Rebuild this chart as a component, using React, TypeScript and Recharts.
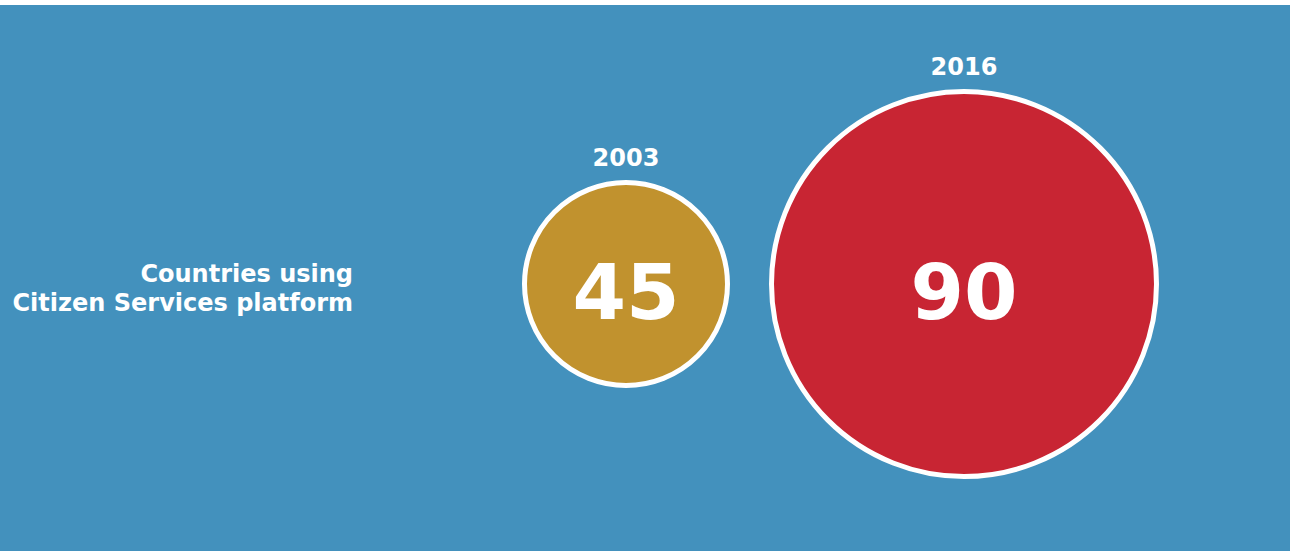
import React from "react";
import { ScatterChart, Scatter, XAxis, YAxis, ZAxis, Cell } from "recharts";

const years = ["2003", "2016"];
const counts = [45, 90];
const metricLabel = ["Countries using", "Citizen Services platform"];
const colors = ["#C1922E", "#C82533"];

const data = years.map((y, i) => ({
  year: y,
  metric: metricLabel.join(" "),
  value: counts[i],
  color: colors[i],
}));

const FONT = "'DejaVu Sans', Verdana, sans-serif";
const STROKE = 5;

const Bubble = (props: any) => {
  const { cx, cy, width, payload } = props;
  const r = width / 2;
  return (
    <g>
      <circle cx={cx} cy={cy} r={r} fill={payload.color} stroke="#ffffff" strokeWidth={STROKE} />
      <text
        x={cx}
        y={cy - r - STROKE / 2 - 14}
        textAnchor="middle"
        fill="#ffffff"
        fontFamily={FONT}
        fontWeight="bold"
        fontSize={24}
      >
        {payload.year}
      </text>
      <text
        x={cx}
        y={cy + 35}
        textAnchor="middle"
        fill="#ffffff"
        fontFamily={FONT}
        fontWeight="bold"
        fontSize={77}
      >
        {payload.value}
      </text>
    </g>
  );
};

const MetricTick = (props: any) => {
  const { x, y } = props;
  return (
    <g>
      {metricLabel.map((line, i) => (
        <text
          key={i}
          x={x - 96}
          y={y - 2 + i * 29}
          textAnchor="end"
          fill="#ffffff"
          fontFamily={FONT}
          fontWeight="bold"
          fontSize={24}
        >
          {line}
        </text>
      ))}
    </g>
  );
};

export default function App() {
  return (
    <div style={{ position: "absolute", left: 0, top: 5, width: 1290, height: 546, background: "#4391BD" }}>
      <ScatterChart width={1290} height={546} margin={{ top: 12, right: 157, bottom: 0, left: 0 }}>
        <XAxis dataKey="year" type="category" allowDuplicatedCategory={false} hide />
        <YAxis
          dataKey="metric"
          type="category"
          allowDuplicatedCategory={false}
          width={457}
          axisLine={false}
          tickLine={false}
          tick={<MetricTick />}
        />
        <ZAxis
          dataKey="value"
          type="number"
          domain={[45, 90]}
          range={[Math.PI * 101.5 * 101.5, Math.PI * 192.5 * 192.5]}
        />
        <Scatter data={data} shape={<Bubble />} isAnimationActive={false}>
          {data.map((d, i) => (
            <Cell key={i} fill={d.color} />
          ))}
        </Scatter>
      </ScatterChart>
    </div>
  );
}
